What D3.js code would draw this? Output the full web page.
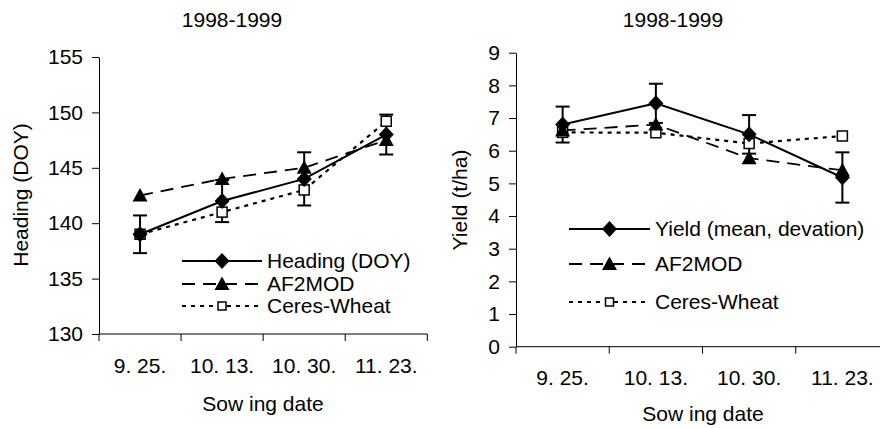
<!DOCTYPE html>
<html>
<head>
<meta charset="utf-8">
<script src="https://d3js.org/d3.v7.min.js"></script>
<style>
  html, body { margin: 0; padding: 0; background: #fff; }
  svg { display: block; }
  text { font-family: "Liberation Sans", Arial, sans-serif; fill: #000; }
</style>
</head>
<body>
<svg id="chart" width="880" height="428"></svg>
<script>
// ---- data ----
const categories = ["9. 25.", "10. 13.", "10. 30.", "11. 23."];
const chartTitle = "1998-1999";
const xTitle = "Sow ing date";

const headingTicks = [130, 135, 140, 145, 150, 155];
const headingObs = [139, 142, 144, 148];
const headingErr = [1.7, 1.9, 2.4, 1.8];
const headingAF2 = [142.5, 144, 145, 147.5];
const headingCeres = [139, 141, 143, 149.2];
const headingNames = ["Heading (DOY)", "AF2MOD", "Ceres-Wheat"];

const yieldTicks = [0, 1, 2, 3, 4, 5, 6, 7, 8, 9];
const yieldObs = [6.8, 7.45, 6.5, 5.18];
const yieldErr = [0.55, 0.6, 0.59, 0.77];
const yieldAF2 = [6.62, 6.8, 5.77, 5.4];
const yieldCeres = [6.56, 6.55, 6.22, 6.45];
const yieldNames = ["Yield (mean, devation)", "AF2MOD", "Ceres-Wheat"];

const svg = d3.select("#chart");
const FONT = 21, LS = 0;

function panel(cfg) {
  const g = svg.append("g");
  const x = d3.scaleBand().domain(categories).range(cfg.xRange).paddingInner(0).paddingOuter(0);
  const y = d3.scaleLinear().domain(cfg.yDomain).range(cfg.yRange);
  const cx = c => x(c) + x.bandwidth() / 2;

  // title
  g.append("text").attr("x", cfg.titleX).attr("y", cfg.titleY).attr("text-anchor", "middle")
    .attr("font-size", FONT).attr("letter-spacing", LS).text(chartTitle);

  // y axis
  const yAxis = d3.axisLeft(y).tickValues(cfg.yTicks).tickSize(7).tickPadding(9).tickSizeOuter(0);
  const ya = g.append("g").attr("transform", `translate(${cfg.xRange[0]},0)`).call(yAxis);
  ya.select(".domain").attr("stroke", "#000").attr("stroke-width", 1);
  ya.selectAll(".tick line").attr("stroke", "#000");
  ya.selectAll(".tick text").attr("font-size", FONT).attr("letter-spacing", LS)
    .attr("font-family", '"Liberation Sans", Arial, sans-serif').attr("fill", "#000");

  // x axis line with ticks at category boundaries
  const y0 = cfg.yRange[0];
  g.append("line").attr("x1", cfg.xRange[0]).attr("x2", cfg.xRange[1]).attr("y1", y0).attr("y2", y0)
    .attr("stroke", "#000").attr("stroke-width", 1);
  const bounds = categories.map(c => x(c)).concat([x.range()[1]]);
  g.selectAll(".xt").data(bounds).join("line")
    .attr("x1", d => d).attr("x2", d => d).attr("y1", y0).attr("y2", y0 + 7)
    .attr("stroke", "#000").attr("stroke-width", 1);
  g.selectAll(".xl").data(categories).join("text")
    .attr("x", d => cx(d)).attr("y", cfg.xLabelY).attr("text-anchor", "middle")
    .attr("font-size", FONT).attr("letter-spacing", LS).text(d => d);
  g.append("text").attr("x", cfg.xTitleX).attr("y", cfg.xTitleY).attr("text-anchor", "middle")
    .attr("font-size", FONT).attr("letter-spacing", LS).text(xTitle);
  g.append("text").attr("transform", `translate(${cfg.yTitleX},${cfg.yTitleY}) rotate(-90)`)
    .attr("text-anchor", "middle").attr("font-size", FONT).attr("letter-spacing", LS).text(cfg.yTitle);

  const line = d3.line().x((d, i) => cx(categories[i])).y(d => y(d));
  const styles = [
    { dash: null, w: 2 },
    { dash: "13,8", w: 1.8 },
    { dash: "4,5", w: 2.2 }
  ];
  const series = [cfg.obs, cfg.af2, cfg.ceres];

  // error bars (observations)
  cfg.obs.forEach((v, i) => {
    const xc = cx(categories[i]);
    const e = cfg.err[i];
    g.append("line").attr("x1", xc).attr("x2", xc).attr("y1", y(v - e)).attr("y2", y(v + e))
      .attr("stroke", "#000").attr("stroke-width", 2);
    [v - e, v + e].forEach(t => {
      g.append("line").attr("x1", xc - 7).attr("x2", xc + 7).attr("y1", y(t)).attr("y2", y(t))
        .attr("stroke", "#000").attr("stroke-width", 2);
    });
  });

  // lines: draw ceres, af2, obs
  [2, 1, 0].forEach(k => {
    g.append("path").datum(series[k]).attr("d", line).attr("fill", "none")
      .attr("stroke", "#000").attr("stroke-width", styles[k].w)
      .attr("stroke-dasharray", styles[k].dash);
  });

  const diamond = (px, py) => g.append("path")
    .attr("d", `M${px},${py - 8}L${px + 7.5},${py}L${px},${py + 8}L${px - 7.5},${py}Z`).attr("fill", "#000");
  const triangle = (px, py) => g.append("path")
    .attr("d", `M${px},${py - 7.5}L${px + 7.5},${py + 6}L${px - 7.5},${py + 6}Z`).attr("fill", "#000");
  const square = (px, py, s) => g.append("rect").attr("x", px - s / 2).attr("y", py - s / 2)
    .attr("width", s).attr("height", s)
    .attr("fill", "#fff").attr("stroke", "#000").attr("stroke-width", 1.5);

  cfg.ceres.forEach((v, i) => square(cx(categories[i]), y(v), 10));
  cfg.af2.forEach((v, i) => triangle(cx(categories[i]), y(v)));
  cfg.obs.forEach((v, i) => diamond(cx(categories[i]), y(v)));

  // legend
  const markers = [diamond, triangle, (px, py) => square(px, py, 8)];
  cfg.names.forEach((name, k) => {
    const ly = cfg.legY[k];
    g.append("line").attr("x1", cfg.legX[0]).attr("x2", cfg.legX[1]).attr("y1", ly).attr("y2", ly)
      .attr("stroke", "#000").attr("stroke-width", styles[k].w).attr("stroke-dasharray", styles[k].dash);
    markers[k]((cfg.legX[0] + cfg.legX[1]) / 2, ly);
    g.append("text").attr("x", cfg.legX[1] + 5).attr("y", ly).attr("dy", "0.35em")
      .attr("font-size", FONT).attr("letter-spacing", LS).text(name);
  });
}

panel({
  xRange: [99, 427.3], yDomain: [130, 155], yRange: [334, 57], yTicks: headingTicks,
  obs: headingObs, err: headingErr, af2: headingAF2, ceres: headingCeres, names: headingNames,
  titleX: 232, titleY: 27, xLabelY: 373, xTitleX: 263, xTitleY: 411,
  yTitleX: 28, yTitleY: 195, yTitle: "Heading (DOY)",
  legX: [182, 262], legY: [261, 284, 306]
});

panel({
  xRange: [516, 889], yDomain: [0, 9], yRange: [346.7, 52.7], yTicks: yieldTicks,
  obs: yieldObs, err: yieldErr, af2: yieldAF2, ceres: yieldCeres, names: yieldNames,
  titleX: 673, titleY: 27, xLabelY: 385, xTitleX: 703, xTitleY: 421,
  yTitleX: 467, yTitleY: 200, yTitle: "Yield (t/ha)",
  legX: [569, 650], legY: [229, 264, 302]
});
</script>
</body>
</html>
